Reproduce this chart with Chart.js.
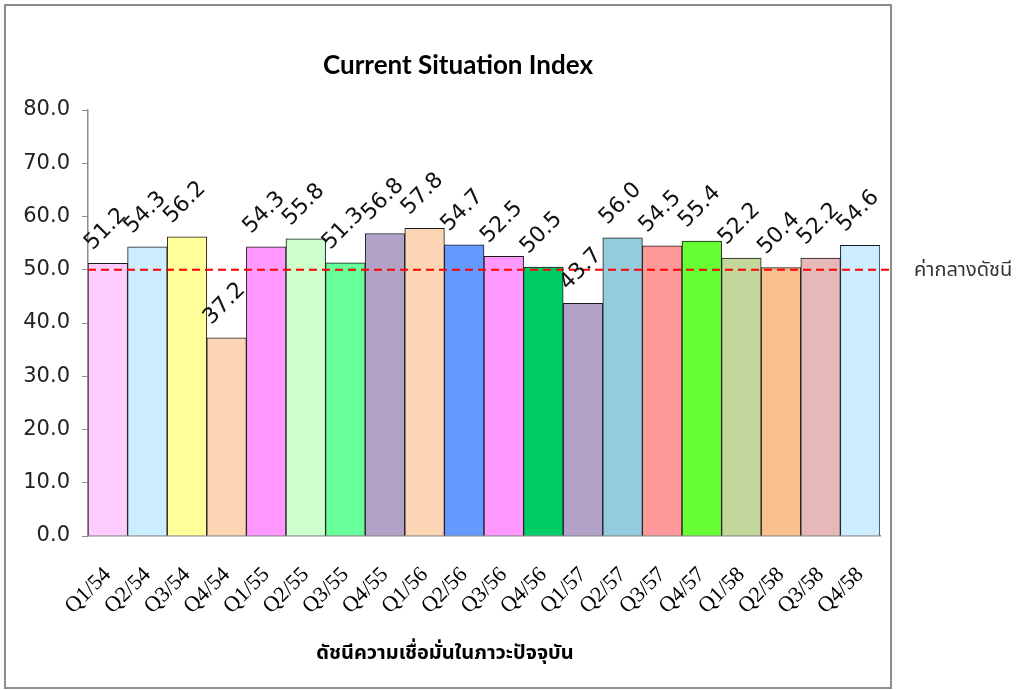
<!DOCTYPE html>
<html>
<head>
<meta charset="utf-8">
<script src="https://cdn.jsdelivr.net/npm/chart.js@4/dist/chart.umd.min.js"></script>
<style>
  html, body { margin: 0; padding: 0; background: #fff; }
  #wrap { width: 1024px; height: 690px; position: relative; }
</style>
</head>
<body>
<div id="wrap"><canvas id="chart"></canvas></div>
<script>
// chart data
const quarters = ['Q1/54', 'Q2/54', 'Q3/54', 'Q4/54', 'Q1/55', 'Q2/55', 'Q3/55', 'Q4/55', 'Q1/56', 'Q2/56',
                  'Q3/56', 'Q4/56', 'Q1/57', 'Q2/57', 'Q3/57', 'Q4/57', 'Q1/58', 'Q2/58', 'Q3/58', 'Q4/58'];
const indexValues = [51.2, 54.3, 56.2, 37.2, 54.3, 55.8, 51.3, 56.8, 57.8, 54.7,
                     52.5, 50.5, 43.7, 56.0, 54.5, 55.4, 52.2, 50.4, 52.2, 54.6];
const barColors = ['#FFCCFF', '#CCECFF', '#FFFF99', '#FCD5B5', '#FF99FF', '#CCFFCC', '#66FF99', '#B3A2C7', '#FCD5B5', '#6699FF',
                   '#FF99FF', '#00CC66', '#B3A2C7', '#93CDDD', '#FF9999', '#66FF33', '#C3D69B', '#FAC090', '#E6B9B8', '#CCECFF'];
const midValue = 50;
const titleText = 'Current Situation Index';
const axisTitle = 'ดัชนีความเชื่อมั่นในภาวะปัจจุบัน';
const midLabel = 'ค่ากลางดัชนี';

// border, titles, mid line and value labels
const decorations = {
    id: 'decorations',
    afterDatasetsDraw(chart) {
        const ctx = chart.ctx;
        const area = chart.chartArea;
        const y = chart.scales.y;

        ctx.save();
        // outer frame
        ctx.strokeStyle = '#8c8c8c';
        ctx.lineWidth = 2;
        ctx.strokeRect(5, 5, 886, 683);

        // 50 line
        const y50 = y.getPixelForValue(midValue);
        ctx.strokeStyle = '#FF0000';
        ctx.lineWidth = 2;
        ctx.setLineDash([8, 5]);
        ctx.beginPath();
        ctx.moveTo(area.left, y50);
        ctx.lineTo(890, y50);
        ctx.stroke();
        ctx.setLineDash([]);

        ctx.fillStyle = '#333';
        ctx.font = '20px "Noto Sans Thai", "Noto Sans", "DejaVu Sans", sans-serif';
        ctx.textAlign = 'left';
        ctx.textBaseline = 'middle';
        ctx.fillText(midLabel, 914, y50 + 2);

        // titles
        ctx.fillStyle = '#000';
        ctx.textAlign = 'center';
        ctx.font = 'bold 26px Lato, "Open Sans", sans-serif';
        ctx.fillText(titleText, 458, 66);
        ctx.font = 'bold 20px "Noto Sans Thai", "Noto Sans", "DejaVu Sans", sans-serif';
        ctx.fillText(axisTitle, 445, 655);

        // value labels
        ctx.font = '22px "DejaVu Sans", sans-serif';
        ctx.fillStyle = '#111';
        chart.getDatasetMeta(0).data.forEach((bar, i) => {
            ctx.save();
            ctx.translate(bar.x - 2, bar.y - 34);
            ctx.rotate(-Math.PI / 4);
            ctx.fillText(indexValues[i].toFixed(1), 0, 0);
            ctx.restore();
        });
        ctx.restore();
    }
};

new Chart(document.getElementById('chart'), {
    type: 'bar',
    data: {
        labels: quarters,
        datasets: [{
            data: indexValues,
            backgroundColor: barColors,
            borderColor: '#1a1a1a',
            borderWidth: 1,
            categoryPercentage: 1,
            barPercentage: 1
        }]
    },
    options: {
        responsive: true,
        maintainAspectRatio: false,
        animation: false,
        layout: { padding: { top: 110, right: 144, left: 0, bottom: 0 } },
        plugins: {
            legend: { display: false },
            title: { display: false },
            tooltip: { enabled: false }
        },
        scales: {
            x: {
                afterFit(scale) { scale.height = 154; },
                grid: { display: false },
                border: { color: '#8c8c8c', width: 1.5 },
                ticks: {
                    autoSkip: false,
                    maxRotation: 45,
                    minRotation: 45,
                    padding: 18,
                    color: '#000',
                    font: { family: '"Liberation Serif", serif', size: 22 }
                }
            },
            y: {
                min: 0,
                max: 80,
                afterFit(scale) { scale.width = 88; },
                grid: { drawOnChartArea: false, color: '#8c8c8c', tickLength: 6 },
                border: { color: '#8c8c8c', width: 1.5 },
                ticks: {
                    stepSize: 10,
                    padding: 12,
                    color: '#222',
                    font: { family: '"DejaVu Sans", sans-serif', size: 21 },
                    callback: v => v.toFixed(1)
                }
            }
        }
    },
    plugins: [decorations]
});
</script>
</body>
</html>
